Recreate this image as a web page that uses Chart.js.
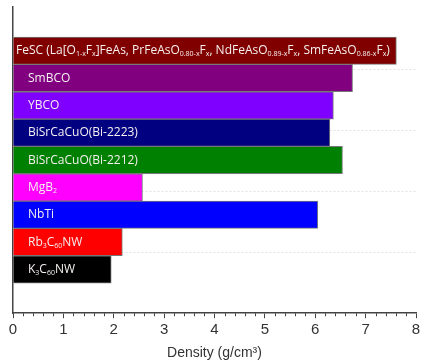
<!DOCTYPE html>
<html>
<head>
<meta charset="utf-8">
<script src="https://cdn.jsdelivr.net/npm/chart.js@4/dist/chart.umd.min.js"></script>
<style>
    body { margin: 0; background: #fff; }
    #wrap { width: 425px; height: 362px; }
</style>
</head>
<body>
<div id="wrap"><canvas id="densityChart" width="425" height="362"></canvas></div>
<script>
// ===== DATOS =====
// _{...} = subíndice
const materials = [
    'FeSC (La[O_{1-x}F_{x}]FeAs, PrFeAsO_{0.80-x}F_{x}, NdFeAsO_{0.89-x}F_{x}, SmFeAsO_{0.86-x}F_{x})',
    'SmBCO',
    'YBCO',
    'BiSrCaCuO(Bi-2223)',
    'BiSrCaCuO(Bi-2212)',
    'MgB_{2}',
    'NbTi',
    'Rb_{3}C_{60}NW',
    'K_{3}C_{60}NW'
];
const density = [7.61, 6.74, 6.36, 6.29, 6.54, 2.57, 6.05, 2.17, 1.95];
const barColors = ['#800000', '#800080', '#8000ff', '#000080', '#008000', '#ff00ff', '#0000ff', '#ff0000', '#000000'];
const xTicks = [0, 1, 2, 3, 4, 5, 6, 7, 8];
const xMinorStep = 0.2;
const yGridLines = [1.63, 3.86, 6.09, 8.33];

// posición de cada barra en el eje índice (la primera arriba)
const rows = materials.map((m, i) => materials.length - i);

const LABEL_FONT = '"Open Sans", "Noto Sans", sans-serif';

// dibuja texto con subíndices
function drawRichText(ctx, text, x, y, size) {
    const parts = text.split(/(_\{[^}]*\})/).filter(p => p.length);
    let cx = x;
    parts.forEach(p => {
        if (p.startsWith('_{')) {
            const t = p.slice(2, -1);
            ctx.font = `${Math.round(size * 0.6)}px ${LABEL_FONT}`;
            ctx.fillText(t, cx, y + size * 0.3);
            cx += ctx.measureText(t).width;
        } else {
            ctx.font = `${size}px ${LABEL_FONT}`;
            ctx.fillText(p, cx, y);
            cx += ctx.measureText(p).width;
        }
    });
    return cx - x;
}

const barLabels = {
    id: 'barLabels',
    afterDatasetsDraw(chart) {
        const ctx = chart.ctx;
        const meta = chart.getDatasetMeta(0);
        const x0 = chart.scales.x.getPixelForValue(0);
        ctx.save();
        ctx.fillStyle = '#f6f0f0';
        ctx.textBaseline = 'middle';
        meta.data.forEach((bar, i) => {
            const inset = i === 0 ? 3 : 15;
            drawRichText(ctx, materials[i], x0 + inset, bar.y, 12);
        });
        ctx.restore();
    }
};

const minorTicks = {
    id: 'minorTicks',
    afterDraw(chart) {
        const sx = chart.scales.x;
        const ctx = chart.ctx;
        const yb = chart.chartArea.bottom;
        ctx.save();
        ctx.strokeStyle = '#444';
        ctx.lineWidth = 1;
        for (let v = sx.min; v <= sx.max + 1e-9; v += xMinorStep) {
            if (Math.abs(v - Math.round(v)) < 1e-6) continue;
            const px = Math.round(sx.getPixelForValue(v)) + 0.5;
            ctx.beginPath();
            ctx.moveTo(px, yb);
            ctx.lineTo(px, yb + 3);
            ctx.stroke();
        }
        ctx.restore();
    }
};

const ctx = document.getElementById('densityChart').getContext('2d');
new Chart(ctx, {
    type: 'bar',
    data: {
        datasets: [{
            data: density.map((d, i) => ({ x: d, y: rows[i] })),
            backgroundColor: barColors,
            borderColor: '#777',
            borderWidth: 1,
            barPercentage: 1,
            categoryPercentage: 1
        }]
    },
    options: {
        indexAxis: 'y',
        responsive: false,
        animation: false,
        layout: { padding: { left: 13, right: 9, top: 7, bottom: 0 } },
        plugins: {
            legend: { display: false },
            tooltip: { enabled: false }
        },
        scales: {
            x: {
                type: 'linear',
                min: xTicks[0],
                max: xTicks[xTicks.length - 1],
                afterBuildTicks: s => { s.ticks = xTicks.map(v => ({ value: v })); },
                ticks: {
                    color: '#333',
                    padding: 3,
                    maxRotation: 0,
                    font: { family: '"Liberation Sans", Arial, sans-serif', size: 15 }
                },
                grid: {
                    drawOnChartArea: false,
                    tickLength: 5,
                    tickColor: '#444',
                    tickWidth: 1
                },
                border: { color: '#444', width: 1.5 },
                title: {
                    display: true,
                    text: 'Density (g/cm³)',
                    color: '#333',
                    padding: { top: 3, bottom: 0 },
                    font: { family: '"Liberation Sans", Arial, sans-serif', size: 14 }
                }
            },
            y: {
                type: 'linear',
                offset: false,
                min: -0.6,
                max: 10.6,
                afterBuildTicks: s => { s.ticks = yGridLines.map(v => ({ value: v })); },
                ticks: { display: false },
                grid: {
                    offset: false,
                    drawTicks: false,
                    color: '#e2e2e2',
                    lineWidth: 1
                },
                border: { color: '#444', width: 1.5, dash: [2, 2] }
            }
        }
    },
    plugins: [barLabels, minorTicks]
});
</script>
</body>
</html>
